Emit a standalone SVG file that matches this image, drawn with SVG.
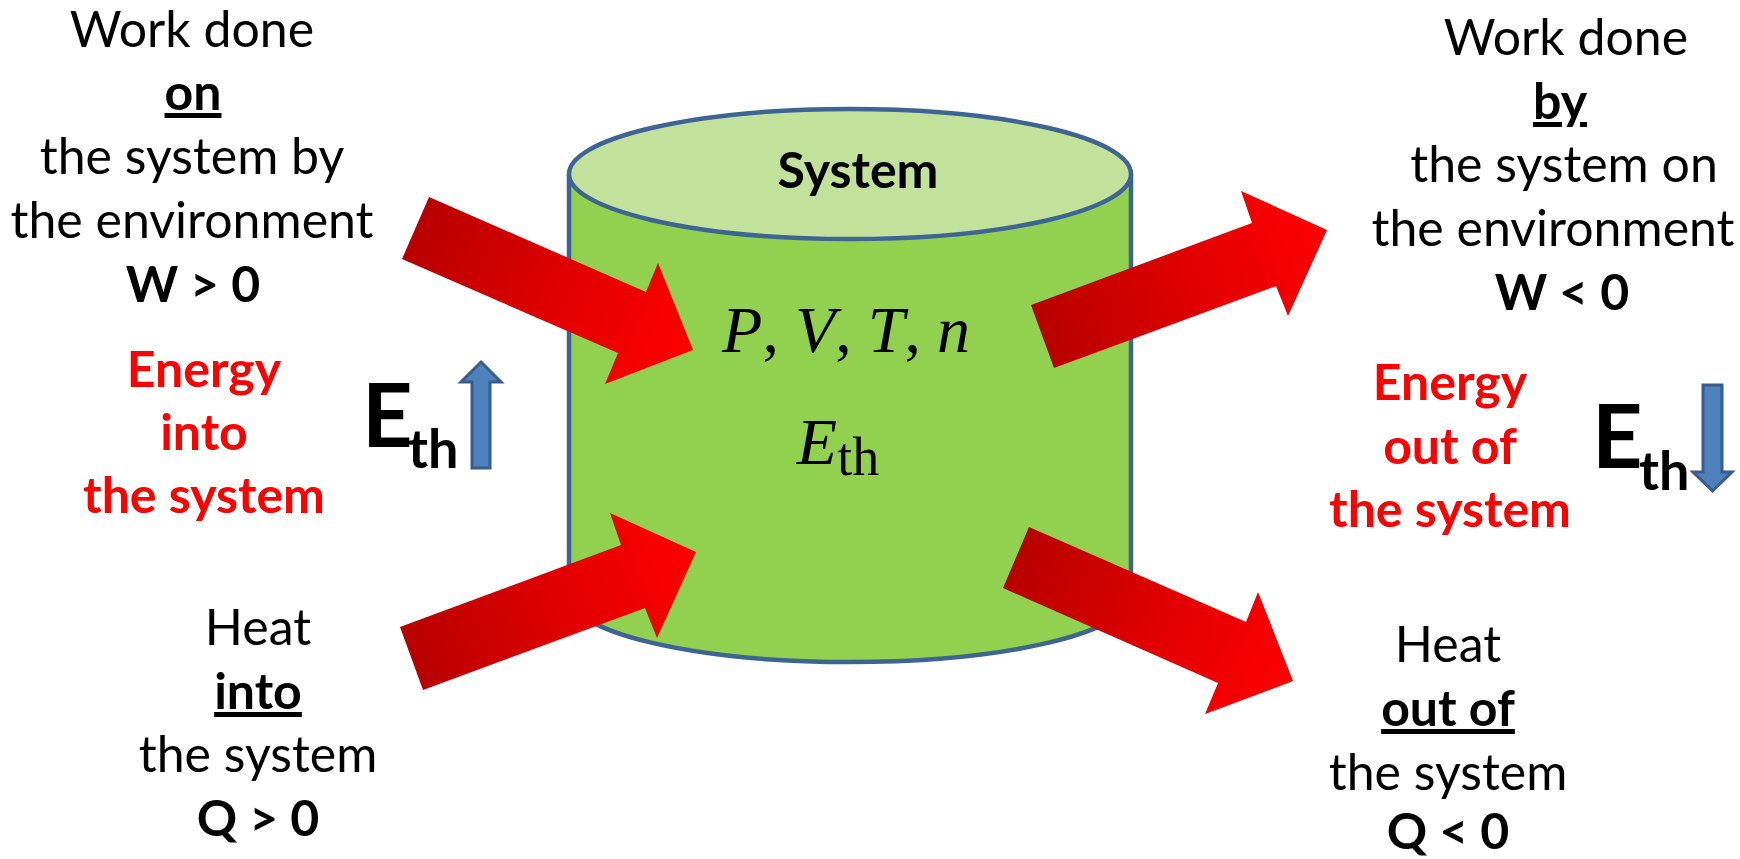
<svg xmlns="http://www.w3.org/2000/svg" width="1740" height="859" viewBox="0 0 1740 859">
  <defs>
    <style>
      .t { font-family: "Lato", "Liberation Sans", sans-serif; font-size: 50px; fill: #000000; text-anchor: middle; }
      .b { font-weight: bold; }
      .red { fill: #FF0000; font-weight: bold; }
      .ul { text-decoration: underline; text-decoration-thickness: 4px; text-underline-offset: 7px; }
      .math { font-family: "Liberation Serif", "DejaVu Serif", serif; font-size: 66px; fill: #000000; }
      .eth { font-family: "Lato", "Liberation Sans", sans-serif; font-weight: bold; fill: #000000; }
      .cyl { stroke: #3E6494; stroke-width: 4.5; }
      .blue { fill: #4F81BD; stroke: #385D8A; stroke-width: 3; stroke-linejoin: miter; }
    </style>
    <linearGradient id="g1" gradientUnits="userSpaceOnUse" x1="415" y1="228" x2="693" y2="350">
      <stop offset="0" stop-color="#B80000"/>
      <stop offset="0.6" stop-color="#E60000"/>
      <stop offset="1" stop-color="#FF0000"/>
    </linearGradient>
    <linearGradient id="g2" gradientUnits="userSpaceOnUse" x1="411" y1="658" x2="696" y2="552">
      <stop offset="0" stop-color="#B80000"/>
      <stop offset="0.6" stop-color="#E60000"/>
      <stop offset="1" stop-color="#FF0000"/>
    </linearGradient>
    <linearGradient id="g3" gradientUnits="userSpaceOnUse" x1="1043" y1="337" x2="1327" y2="230">
      <stop offset="0" stop-color="#B80000"/>
      <stop offset="0.6" stop-color="#E60000"/>
      <stop offset="1" stop-color="#FF0000"/>
    </linearGradient>
    <linearGradient id="g4" gradientUnits="userSpaceOnUse" x1="1016" y1="557" x2="1293" y2="681">
      <stop offset="0" stop-color="#B80000"/>
      <stop offset="0.6" stop-color="#E60000"/>
      <stop offset="1" stop-color="#FF0000"/>
    </linearGradient>
  </defs>

  <rect width="1740" height="859" fill="#FFFFFF"/>

  <g id="system">
    <path class="cyl" d="M569,174 V596 A281,66 0 0 0 1131,596 V174" fill="#92D050"/>
    <ellipse class="cyl" cx="850" cy="174" rx="281" ry="65" fill="#C2E29C"/>
    <text class="t b" x="858" y="188">System</text>
    <text class="math" x="846" y="352" text-anchor="middle"><tspan font-style="italic">P</tspan>,<tspan dx="16" font-style="italic">V</tspan>,<tspan dx="16" font-style="italic">T</tspan>,<tspan dx="16" font-style="italic">n</tspan></text>
    <text class="math" x="838" y="464" text-anchor="middle" font-size="74"><tspan font-style="italic">E</tspan><tspan font-size="54" dy="11">th</tspan></text>
  </g>

  <g id="connectors">
    <polygon id="arrow-work-in" fill="url(#g1)" points="429,197 646,292 658,263 693,350 605,384 618,353 402,259"/>
    <polygon id="arrow-heat-in" fill="url(#g2)" points="400,627 621,545 610,513 696,552 657,638 645,608 423,690"/>
    <polygon id="arrow-work-out" fill="url(#g3)" points="1031,305 1252,223 1241,191 1327,230 1288,316 1276,286 1054,368"/>
    <polygon id="arrow-heat-out" fill="url(#g4)" points="1029,527 1246,622 1258,592 1293,681 1205,714 1218,683 1003,588"/>
  </g>

  <g id="work-on">
    <text class="t" x="192" y="47">Work done</text>
    <text class="t b ul" x="193" y="110">on</text>
    <text class="t" x="192" y="174">the system by</text>
    <text class="t" x="192" y="238">the environment</text>
    <text class="t b" x="193" y="302">W &gt; 0</text>
  </g>

  <g id="energy-in">
    <text class="t red" x="204" y="387">Energy</text>
    <text class="t red" x="204" y="450">into</text>
    <text class="t red" x="204" y="513">the system</text>
  </g>

  <g id="eth-up">
    <text class="eth" x="362" y="447" font-size="88">E</text>
    <text class="eth" x="408" y="468" font-size="54">th</text>
    <polygon class="blue" points="481,362 501,382 490,382 490,468 472,468 472,382 461,382"/>
  </g>

  <g id="heat-in">
    <text class="t" x="258" y="645">Heat</text>
    <text class="t b ul" x="258" y="709">into</text>
    <text class="t" x="258" y="772">the system</text>
    <text class="t b" x="258" y="836">Q &gt; 0</text>
  </g>

  <g id="work-by">
    <text class="t" x="1566" y="55">Work done</text>
    <text class="t b ul" x="1560" y="119">by</text>
    <text class="t" x="1564" y="182">the system on</text>
    <text class="t" x="1553" y="246">the environment</text>
    <text class="t b" x="1562" y="310">W &lt; 0</text>
  </g>

  <g id="energy-out">
    <text class="t red" x="1450" y="400">Energy</text>
    <text class="t red" x="1450" y="464">out of</text>
    <text class="t red" x="1450" y="527">the system</text>
  </g>

  <g id="eth-down">
    <text class="eth" x="1592" y="468" font-size="88">E</text>
    <text class="eth" x="1639" y="490" font-size="54">th</text>
    <polygon class="blue" points="1703,385 1722,385 1722,472 1732,472 1712.5,491 1693,472 1703,472"/>
  </g>

  <g id="heat-out">
    <text class="t" x="1448" y="662">Heat</text>
    <text class="t b ul" x="1448" y="726">out of</text>
    <text class="t" x="1448" y="790">the system</text>
    <text class="t b" x="1448" y="849">Q &lt; 0</text>
  </g>
</svg>
